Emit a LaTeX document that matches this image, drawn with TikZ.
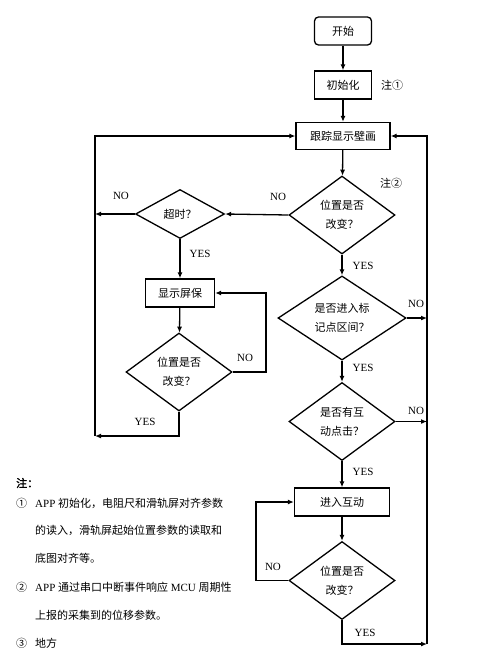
\documentclass[tikz,border=0pt]{standalone}
\usepackage{fontspec}
\setmainfont{Liberation Serif}
\newfontfamily\cjk{Noto Sans CJK SC}
\newfontfamily\cjkb[FakeBold=2]{Noto Sans CJK SC}
\usetikzlibrary{shapes.geometric,arrows.meta}
\tikzset{
  line/.style={line width=1.3pt},
  arr/.style={line width=1.3pt,-{Latex[length=6pt,width=5pt]}},
  boxnode/.style={draw,line width=1.3pt,rectangle,inner sep=0pt,font=\cjk\fontsize{11}{19}\selectfont},
  decide/.style={draw,line width=1.3pt,diamond,inner sep=0pt,align=center,font=\cjk\fontsize{11}{19}\selectfont},
  lbl/.style={font=\fontsize{11}{13}\selectfont,inner sep=0pt},
  notetext/.style={anchor=west,inner sep=0pt,font=\fontsize{11}{13}\selectfont},
}
\begin{document}
\begin{tikzpicture}[x=1pt,y=-1pt]
\useasboundingbox[fill=white] (0,0) rectangle (500,670);

% nodes
\node[boxnode,rounded corners=4pt,minimum width=57pt,minimum height=28pt] (start) at (343,31) {开始};
\node[boxnode,minimum width=57pt,minimum height=28pt] (init) at (343,85) {初始化};
\node[inner sep=0pt,font=\cjk\fontsize{11}{13}\selectfont] (n1) at (392,85) {注①};
\node[boxnode,minimum width=94pt,minimum height=27pt] (track) at (343,136) {跟踪显示壁画};
\node[decide,minimum width=106pt,minimum height=78pt] (d1) at (342,215) {位置是否\\改变？};
\node[inner sep=0pt,font=\cjk\fontsize{11}{13}\selectfont] (n2) at (391,183) {注②};
\node[decide,minimum width=89pt,minimum height=49pt] (timeout) at (180,214) {超时？};
\node[boxnode,minimum width=69pt,minimum height=28pt] (saver) at (180,293) {显示屏保};
\node[decide,minimum width=106pt,minimum height=78pt] (d3) at (179,372) {位置是否\\改变？};
\node[decide,minimum width=128pt,minimum height=78pt] (d2) at (342,318) {是否进入标\\记点区间？};
\node[decide,minimum width=106pt,minimum height=78pt] (d4) at (342,421.5) {是否有互\\动点击？};
\node[boxnode,minimum width=95pt,minimum height=28pt] (interact) at (342,502) {进入互动};
\node[decide,minimum width=106pt,minimum height=78pt] (d5) at (342,580.5) {位置是否\\改变？};

% helper coordinates
\coordinate (Lbot) at (95,436);
\coordinate (Rbot) at (427,644);
\coordinate (R3) at (266,0);
\coordinate (L5) at (256,0);

% connectors
\draw[arr] (start) -- (init);
\draw[arr] (init) -- (track);
\draw[arr] (track) -- (d1);
\draw[arr] (d1.west) -- (timeout.east);
\draw[arr] (timeout.west) -- (timeout.west -| Lbot);
\draw[arr] (timeout.south) -- (saver.north);
\draw[arr] (saver) -- (d3);
\draw[arr] (d3.east) -- (d3.east -| R3) |- (saver.east);
\draw[arr] (d3.south) |- (Lbot);
\draw[arr] (Lbot) |- (track.west);
\draw[arr] (d1.south) -- (d2.north);
\draw[arr] (d2.east) -- (d2.east -| Rbot);
\draw[arr] (d2.south) -- (d4.north);
\draw[arr] (d4.east) -- (d4.east -| Rbot);
\draw[arr] (d4.south) -- (interact.north);
\draw[arr] (interact) -- (d5);
\draw[arr] (d5.west) -- (d5.west -| L5) |- (interact.west);
\draw[arr] (d5.south) |- (Rbot);
\draw[arr] (Rbot) |- (track.east);

% labels
\node[lbl] (l1) at (278,197) {NO};
\node[lbl] (l2) at (121,196) {NO};
\node[lbl] (l3) at (200,254) {YES};
\node[lbl] (l4) at (245,358) {NO};
\node[lbl] (l5) at (145,422) {YES};
\node[lbl] (l6) at (363,266) {YES};
\node[lbl] (l7) at (416,304) {NO};
\node[lbl] (l8) at (363,368) {YES};
\node[lbl] (l9) at (416,411) {NO};
\node[lbl] (l10) at (363,472) {YES};
\node[lbl] (l11) at (273,567) {NO};
\node[lbl] (l12) at (365,633) {YES};

% notes
\node[notetext,font=\cjkb\fontsize{11}{13}\selectfont] (nh) at (16,483) {注：};
\node[notetext,font=\cjk\fontsize{11}{13}\selectfont] (c1) at (16,503) {①};
\node[notetext] (t1) at (35,503) {APP {\cjk 初始化，电阻尺和滑轨屏对齐参数}};
\node[notetext] (t2) at (35,530) {\cjk 的读入，滑轨屏起始位置参数的读取和};
\node[notetext] (t3) at (35,558) {\cjk 底图对齐等。};
\node[notetext,font=\cjk\fontsize{11}{13}\selectfont] (c2) at (16,587) {②};
\node[notetext] (t4) at (35,587) {APP {\cjk 通过串口中断事件响应} MCU {\cjk 周期性}};
\node[notetext] (t5) at (35,615) {\cjk 上报的采集到的位移参数。};
\node[notetext,font=\cjk\fontsize{11}{13}\selectfont] (c3) at (16,643) {③};
\node[notetext] (t6) at (35,643) {\cjk 地方};
\end{tikzpicture}
\end{document}
